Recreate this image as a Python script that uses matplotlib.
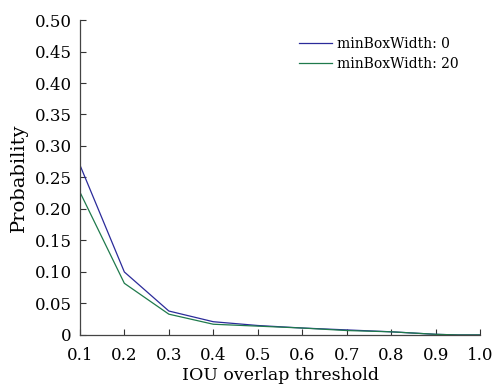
import matplotlib.pyplot as plt

plt.rcParams['font.family'] = ['DejaVu Serif']

iou = [0.1, 0.2, 0.3, 0.4, 0.5, 0.6, 0.7, 0.8, 0.9, 0.95, 1.0]
prob_w0 = [0.270, 0.100, 0.038, 0.021, 0.015, 0.011, 0.008, 0.005, 0.001, 0.0, 0.0]
prob_w20 = [0.227, 0.082, 0.033, 0.017, 0.014, 0.011, 0.007, 0.005, 0.001, 0.0, 0.0]

xticks = [0.1, 0.2, 0.3, 0.4, 0.5, 0.6, 0.7, 0.8, 0.9, 1.0]
yticks = [0, 0.05, 0.10, 0.15, 0.20, 0.25, 0.30, 0.35, 0.40, 0.45, 0.50]
ytick_labels = ['0'] + [f"{v:.2f}" for v in yticks[1:]]

fig = plt.figure(figsize=(4.93, 3.85), dpi=100)
ax = fig.add_axes([0.162, 0.130, 0.812, 0.818])

ax.plot(iou, prob_w0, color='#2b2b9a', lw=0.9, label='minBoxWidth: 0')
ax.plot(iou, prob_w20, color='#1f7a4c', lw=0.9, label='minBoxWidth: 20')

ax.set_xlim(0.1, 1.0)
ax.set_ylim(0, 0.5)
ax.set_xticks(xticks)
ax.set_xticklabels([f"{v:.1f}" for v in xticks])
ax.set_yticks(yticks)
ax.set_yticklabels(ytick_labels)
ax.tick_params(direction='in', length=4, width=0.8, colors='#333333',
               labelcolor='black', labelsize=12)
ax.tick_params(axis='x', pad=9)
ax.tick_params(axis='y', pad=6)

for side in ['top', 'right']:
    ax.spines[side].set_visible(False)
for side in ['left', 'bottom']:
    ax.spines[side].set_color('#444444')
    ax.spines[side].set_linewidth(0.9)

ax.set_xlabel('IOU overlap threshold', fontsize=12.5, labelpad=2)
ax.set_ylabel('Probability', fontsize=14, labelpad=5)

ax.legend(frameon=False, loc='upper right', bbox_to_anchor=(0.96, 0.965),
          borderaxespad=0, fontsize=10, handlelength=2.4, handletextpad=0.35,
          labelspacing=0.45)

fig.savefig('out.png', dpi=100)
